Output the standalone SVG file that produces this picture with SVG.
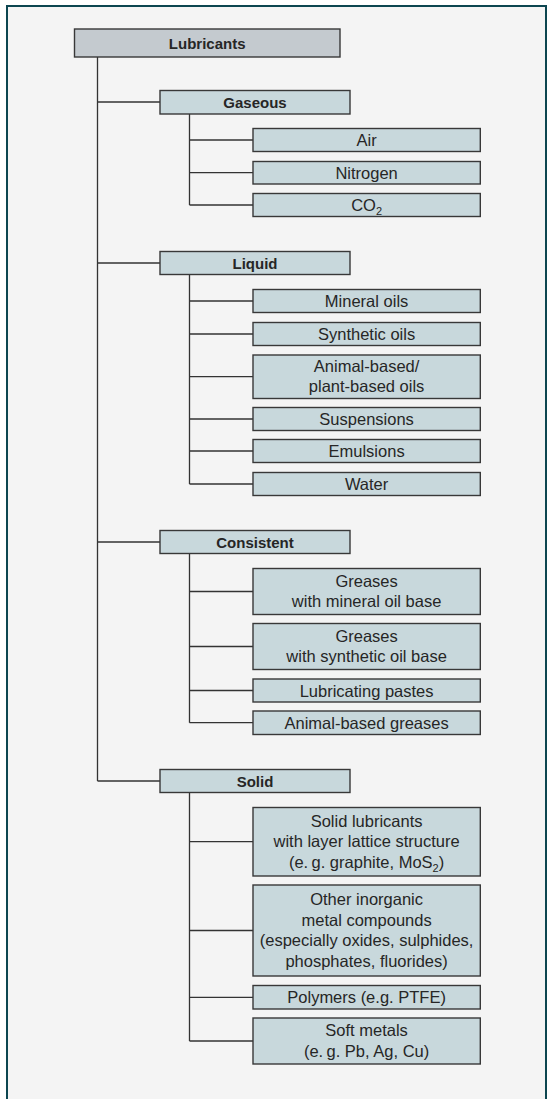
<svg xmlns="http://www.w3.org/2000/svg" width="547" height="1099" viewBox="0 0 547 1099">
  <style>
    .frame { fill: #f4f4f4; stroke: #0c4650; stroke-width: 2; }
    .root { fill: #c4cacf; stroke: #383838; stroke-width: 1.4; }
    .box { fill: #c8d8dc; stroke: #383838; stroke-width: 1.4; }
    .wire { fill: none; stroke: #333; stroke-width: 1.3; }
    text { font-family: "Liberation Sans", Arial, sans-serif; font-size: 16.5px; fill: #262626; text-anchor: middle; }
    .b { font-weight: bold; font-size: 15px; }
    .sub { font-size: 11px; }
  </style>

  <rect width="547" height="1099" fill="#ffffff"/>
  <rect class="frame" x="7" y="6" width="539" height="1110"/>

  <!-- tree connectors -->
  <g id="connectors">
    <path class="wire" d="M97.5 57 V781 M97.5 102 H160 M97.5 263 H160 M97.5 542 H160 M97.5 781 H160"/>
    <path class="wire" d="M189.5 114 V205 M189.5 140 H253 M189.5 172.7 H253 M189.5 205 H253"/>
    <path class="wire" d="M189.5 274.5 V484 M189.5 301 H253 M189.5 334 H253 M189.5 376.7 H253 M189.5 419 H253 M189.5 451 H253 M189.5 484 H253"/>
    <path class="wire" d="M189.5 553.5 V722.7 M189.5 591.5 H253 M189.5 646.5 H253 M189.5 690.5 H253 M189.5 722.7 H253"/>
    <path class="wire" d="M189.5 792.5 V1041 M189.5 841.7 H253 M189.5 930.5 H253 M189.5 997.3 H253 M189.5 1041 H253"/>
  </g>

  <g id="lubricants">
    <rect class="root" x="74.5" y="29" width="265.5" height="28"/>
    <text class="b" x="207.2" y="48.5">Lubricants</text>
  </g>

  <!-- gaseous branch -->
  <g id="gaseous">
    <rect class="box" x="160" y="90.5" width="190" height="23.5"/>
    <text class="b" x="255" y="107.5">Gaseous</text>
  </g>
  <g id="air">
    <rect class="box" x="253" y="128.5" width="227.3" height="23"/>
    <text x="366.6" y="146">Air</text>
  </g>
  <g id="nitrogen">
    <rect class="box" x="253" y="161.5" width="227.3" height="22.5"/>
    <text x="366.6" y="178.5">Nitrogen</text>
  </g>
  <g id="co2">
    <rect class="box" x="253" y="193.5" width="227.3" height="23"/>
    <text x="366.6" y="211">CO<tspan class="sub" dy="4">2</tspan></text>
  </g>

  <!-- liquid branch -->
  <g id="liquid">
    <rect class="box" x="160" y="251.5" width="190" height="23"/>
    <text class="b" x="255" y="268.5">Liquid</text>
  </g>
  <g id="mineral-oils">
    <rect class="box" x="253" y="289.5" width="227.3" height="23"/>
    <text x="366.6" y="307">Mineral oils</text>
  </g>
  <g id="synthetic-oils">
    <rect class="box" x="253" y="322.5" width="227.3" height="23"/>
    <text x="366.6" y="340">Synthetic oils</text>
  </g>
  <g id="animal-plant-oils">
    <rect class="box" x="253" y="355" width="227.3" height="43.5"/>
    <text x="366.6" y="371.5">Animal-based/</text>
    <text x="366.6" y="392">plant-based oils</text>
  </g>
  <g id="suspensions">
    <rect class="box" x="253" y="407.5" width="227.3" height="23"/>
    <text x="366.6" y="425">Suspensions</text>
  </g>
  <g id="emulsions">
    <rect class="box" x="253" y="439.5" width="227.3" height="23"/>
    <text x="366.6" y="457">Emulsions</text>
  </g>
  <g id="water">
    <rect class="box" x="253" y="472.5" width="227.3" height="23"/>
    <text x="366.6" y="490">Water</text>
  </g>

  <!-- consistent branch -->
  <g id="consistent">
    <rect class="box" x="160" y="530.5" width="190" height="23"/>
    <text class="b" x="255" y="547.5">Consistent</text>
  </g>
  <g id="greases-mineral">
    <rect class="box" x="253" y="568.5" width="227.3" height="46"/>
    <text x="366.6" y="586.5">Greases</text>
    <text x="366.6" y="607">with mineral oil base</text>
  </g>
  <g id="greases-synthetic">
    <rect class="box" x="253" y="623.5" width="227.3" height="46"/>
    <text x="366.6" y="641.5">Greases</text>
    <text x="366.6" y="662">with synthetic oil base</text>
  </g>
  <g id="lubricating-pastes">
    <rect class="box" x="253" y="679" width="227.3" height="23"/>
    <text x="366.6" y="696.5">Lubricating pastes</text>
  </g>
  <g id="animal-greases">
    <rect class="box" x="253" y="711" width="227.3" height="23.5"/>
    <text x="366.6" y="728.7">Animal-based greases</text>
  </g>

  <!-- solid branch -->
  <g id="solid">
    <rect class="box" x="160" y="769.5" width="190" height="23"/>
    <text class="b" x="255" y="786.5">Solid</text>
  </g>
  <g id="layer-lattice">
    <rect class="box" x="253" y="807.5" width="227.3" height="68.5"/>
    <text x="366.6" y="826.7">Solid lubricants</text>
    <text x="366.6" y="847.2">with layer lattice structure</text>
    <text x="366.6" y="867.7">(e.&#8201;g. graphite, MoS<tspan class="sub" dy="4">2</tspan><tspan dy="-4">)</tspan></text>
  </g>
  <g id="inorganic-compounds">
    <rect class="box" x="253" y="885" width="227.3" height="91"/>
    <text x="366.6" y="905.3">Other inorganic</text>
    <text x="366.6" y="925.8">metal compounds</text>
    <text x="366.6" y="946.3">(especially oxides, sulphides,</text>
    <text x="366.6" y="966.8">phosphates, fluorides)</text>
  </g>
  <g id="polymers">
    <rect class="box" x="253" y="985.5" width="227.3" height="23.5"/>
    <text x="366.6" y="1003.3">Polymers (e.g. PTFE)</text>
  </g>
  <g id="soft-metals">
    <rect class="box" x="253" y="1018" width="227.3" height="46"/>
    <text x="366.6" y="1036.3">Soft metals</text>
    <text x="366.6" y="1056.8">(e.&#8201;g. Pb, Ag, Cu)</text>
  </g>
</svg>
